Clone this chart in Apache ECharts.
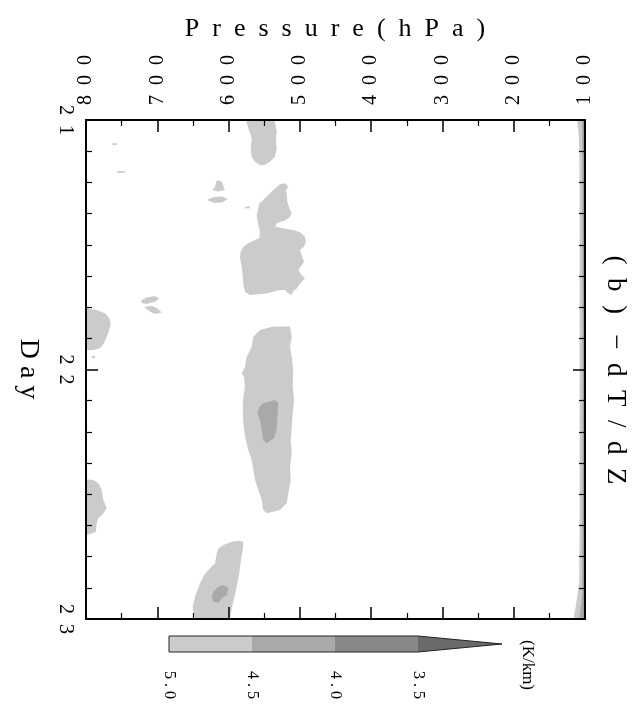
<!DOCTYPE html>
<html>
<head>
<meta charset="utf-8">
<script src="https://cdn.jsdelivr.net/npm/echarts@6/dist/echarts.min.js"></script>
<style>
  html, body { margin: 0; padding: 0; background: #fff; }
  #chart { width: 634px; height: 715px; }
</style>
</head>
<body>
<div id="chart"></div>
<script>
// Axis ranges and ticks
const pressureTicks = [800, 700, 600, 500, 400, 300, 200, 100];
const dayTicks = [21, 22, 23];

// Shading levels of -dT/dZ (K/km): bounds and fill colours
const levelBounds = [5.0, 4.5, 4.0, 3.5];
const levelColors = ['#cbcbcb', '#a9a9a9', '#888888', '#6a6a6a'];

// Contour outlines, each vertex = [pressure (hPa), day]
// --- areas below 5.0 K/km ---
const patchEarly = [[575.6,21.000],[572.3,21.033],[569.0,21.060],[567.6,21.080],[569.0,21.113],[567.6,21.147],[562.9,21.167],[555.9,21.180],[548.9,21.180],[541.9,21.167],[534.9,21.147],[532.5,21.113],[533.5,21.080],[532.5,21.047],[534.9,21.013],[536.3,21.000]];
const speckLow1 = [[763.5,21.093],[756.5,21.093],[757.0,21.100],[763.0,21.100]];
const speckLow2 = [[756.5,21.204],[745.3,21.204],[746.0,21.211],[756.0,21.211]];
const patchMid1 = [[614.8,21.240],[609.2,21.248],[606.4,21.273],[605.0,21.281],[614.8,21.287],[623.2,21.281],[619.0,21.269],[617.6,21.248]];
const patchMid2 = [[628.9,21.319],[620.4,21.309],[609.2,21.307],[600.8,21.317],[609.2,21.331],[620.4,21.333],[628.9,21.323]];
const speckMid = [[577.0,21.347],[570.0,21.347],[570.0,21.354],[577.0,21.354]];
const patchDay21 = [[527.9,21.258],[520.8,21.254],[516.2,21.267],[519.4,21.281],[518.5,21.301],[517.6,21.327],[514.8,21.354],[511.4,21.374],[513.8,21.388],[519.4,21.401],[532.5,21.414],[534.9,21.428],[523.2,21.434],[509.2,21.441],[499.8,21.450],[492.8,21.468],[491.4,21.488],[494.2,21.508],[499.8,21.521],[497.4,21.541],[494.2,21.568],[497.4,21.581],[502.2,21.601],[497.4,21.621],[492.8,21.634],[499.8,21.655],[504.4,21.675],[509.2,21.685],[511.4,21.701],[516.2,21.695],[520.8,21.681],[527.9,21.681],[546.5,21.695],[569.9,21.701],[577.0,21.688],[579.3,21.661],[580.2,21.621],[581.6,21.588],[584.0,21.554],[583.0,21.528],[579.3,21.508],[572.3,21.494],[562.9,21.481],[556.9,21.474],[555.9,21.448],[558.3,21.421],[560.5,21.381],[558.3,21.354],[556.9,21.334],[551.3,21.321],[546.5,21.307],[541.9,21.294],[537.3,21.281],[531.6,21.267]];
const patchLow3a = [[721.9,21.721],[714.8,21.711],[703.2,21.705],[697.2,21.715],[703.2,21.728],[714.8,21.737],[722.8,21.732]];
const patchLow3b = [[718.6,21.748],[707.8,21.745],[700.0,21.755],[693.8,21.772],[703.2,21.778],[710.2,21.768],[714.8,21.759]];
const patchSurf1 = [[800.0,21.755],[785.0,21.762],[773.3,21.775],[767.3,21.795],[765.4,21.815],[767.3,21.842],[771.0,21.869],[774.7,21.895],[780.4,21.915],[789.8,21.922],[800.0,21.922]];
const speckSurf = [[792.0,21.945],[787.0,21.945],[788.0,21.955],[791.0,21.955]];
const patchDay22 = [[555.9,21.842],[537.3,21.828],[513.8,21.828],[511.4,21.869],[513.8,21.909],[511.4,21.949],[509.2,22.002],[510.0,22.069],[508.2,22.122],[510.0,22.176],[511.4,22.229],[512.8,22.283],[511.4,22.336],[513.8,22.390],[512.8,22.443],[516.2,22.496],[518.5,22.536],[527.9,22.563],[546.5,22.576],[551.3,22.563],[553.5,22.523],[558.3,22.483],[562.9,22.443],[565.3,22.403],[567.6,22.363],[572.3,22.323],[577.0,22.269],[579.3,22.216],[580.2,22.162],[579.3,22.109],[577.0,22.069],[578.4,22.029],[581.6,22.015],[577.0,21.989],[574.6,21.949],[567.6,21.909],[565.3,21.869]];
const patchSurf2 = [[800.0,22.440],[789.8,22.443],[782.7,22.456],[778.0,22.483],[775.7,22.523],[771.0,22.556],[775.7,22.576],[782.7,22.596],[785.0,22.616],[786.0,22.650],[792.0,22.657],[800.0,22.663]];
const patchLate = [[586.4,22.686],[579.3,22.690],[580.2,22.723],[582.6,22.764],[585.4,22.824],[589.6,22.884],[593.8,22.936],[598.7,23.000],[647.1,23.000],[650.3,22.951],[647.1,22.911],[640.1,22.857],[635.5,22.830],[628.4,22.804],[619.0,22.777],[616.7,22.737],[614.4,22.717],[607.4,22.703],[595.6,22.690]];
const edgeTop1 = [[100,21.0],[111,21.0],[109,21.05],[108,21.12],[107.5,21.3],[107.5,22.0],[107.5,22.6],[108,22.85],[113,22.95],[116,23.0],[100,23.0]];
// --- areas below 4.5 K/km ---
const coreDay22 = [[551.3,22.135],[534.9,22.122],[530.2,22.135],[531.6,22.189],[532.5,22.242],[536.3,22.276],[546.5,22.296],[551.3,22.283],[553.5,22.242],[555.9,22.202],[559.7,22.176],[556.9,22.149]];
const coreLate = [[614.4,22.871],[607.4,22.864],[600.4,22.877],[602.6,22.904],[609.6,22.917],[614.4,22.935],[621.4,22.931],[623.7,22.911],[621.4,22.891]];
const edgeTop2 = [[100,21.0],[104,21.0],[103.5,21.5],[103.5,22.5],[104,22.9],[108,23.0],[100,23.0]];
// --- areas below 4.0 K/km ---
const edgeTop3 = [[100,21.0],[102,21.0],[101.8,22.0],[102,23.0],[100,23.0]];

const shadeLevels = [
  [patchEarly, speckLow1, speckLow2, patchMid1, patchMid2, speckMid, patchDay21, patchLow3a, patchLow3b, patchSurf1, speckSurf, patchDay22, patchSurf2, patchLate, edgeTop1],
  [coreDay22, coreLate, edgeTop2],
  [edgeTop3]
];

const FONT = '"Liberation Serif", "DejaVu Serif", serif';
const spaced = (s, sep) => String(s).split('').join(sep);

const chart = echarts.init(document.getElementById('chart'), null, { renderer: 'canvas' });

const gridBox = { left: 86, top: 120, width: 499, height: 499 };

function pressureAxis(pos, showLabels) {
  return {
    type: 'value', position: pos, min: 100, max: 800, interval: 100, inverse: true, z: 5,
    axisLine: { show: true, onZero: false, lineStyle: { color: '#000', width: 2 } },
    axisTick: { show: true, inside: true, length: 12, lineStyle: { color: '#000', width: 1.5 } },
    minorTick: { show: true, splitNumber: 2, length: 6, lineStyle: { color: '#000', width: 1.2 } },
    splitLine: { show: false }, minorSplitLine: { show: false },
    axisLabel: {
      show: showLabels, rotate: -90, margin: 15, fontSize: 20, fontFamily: FONT, color: '#000',
      formatter: v => pressureTicks.includes(v) ? spaced(v, '\u2002') : ''
    }
  };
}
function dayAxis(pos, showLabels) {
  return {
    type: 'value', position: pos, min: 21, max: 23, interval: 1, inverse: true, z: 5,
    axisLine: { show: true, onZero: false, lineStyle: { color: '#000', width: 2 } },
    axisTick: { show: true, inside: true, length: 12, lineStyle: { color: '#000', width: 1.5 } },
    minorTick: { show: true, splitNumber: 8, length: 6, lineStyle: { color: '#000', width: 1.2 } },
    splitLine: { show: false }, minorSplitLine: { show: false },
    axisLabel: {
      show: showLabels, rotate: -90, margin: 11, fontSize: 20, fontFamily: FONT, color: '#000',
      formatter: v => dayTicks.includes(v) ? spaced(v, '\u2002') : ''
    }
  };
}

function shadeSeries(polys, color, z) {
  return {
    type: 'custom', coordinateSystem: 'cartesian2d', xAxisIndex: 0, yAxisIndex: 0,
    silent: true, animation: false, z: z,
    encode: { x: 0, y: 1 },
    data: polys.map((poly, i) => [poly[0][0], poly[0][1], i]),
    renderItem: (params, api) => {
      const poly = polys[api.value(2)];
      const pts = poly.map(pt => api.coord(pt));
      return { type: 'polygon', shape: { points: pts }, style: { fill: color, stroke: null } };
    }
  };
}

// Colour bar built from the level bounds
const cbX0 = 169, cbY = 636, cbSeg = 83, cbH = 16, cbTip = 84;
const graphics = [];
levelBounds.slice(0, 3).forEach((b, i) => {
  graphics.push({ type: 'rect', shape: { x: cbX0 + i * cbSeg, y: cbY, width: cbSeg, height: cbH }, style: { fill: levelColors[i] } });
});
const cbEnd = cbX0 + 3 * cbSeg;
graphics.push({ type: 'polygon', shape: { points: [[cbEnd, cbY], [cbEnd + cbTip, cbY + cbH / 2], [cbEnd, cbY + cbH]] }, style: { fill: levelColors[3] } });
graphics.push({ type: 'polyline', shape: { points: [[cbX0, cbY], [cbEnd, cbY], [cbEnd + cbTip, cbY + cbH / 2], [cbEnd, cbY + cbH], [cbX0, cbY + cbH], [cbX0, cbY]] }, style: { stroke: '#222', lineWidth: 1, fill: null } });
levelBounds.forEach((b, i) => {
  graphics.push({ type: 'text', x: cbX0 + i * cbSeg, y: 685, rotation: -Math.PI / 2,
    style: { text: spaced(b.toFixed(1), ' '), fontSize: 16, fontFamily: FONT, fill: '#000', align: 'center', verticalAlign: 'middle' } });
});
graphics.push({ type: 'text', x: 527, y: 665, rotation: -Math.PI / 2,
  style: { text: '(K/km)', fontSize: 17, fontFamily: FONT, fill: '#000', align: 'center', verticalAlign: 'middle' } });
// Titles
graphics.push({ type: 'text', x: 335, y: 29,
  style: { text: spaced('Pressure(hPa)', '\u2002'), fontSize: 26, fontFamily: FONT, fill: '#000', align: 'center', verticalAlign: 'middle' } });
graphics.push({ type: 'text', x: 28, y: 369, rotation: -Math.PI / 2,
  style: { text: spaced('Day', ' '), fontSize: 28, fontFamily: FONT, fill: '#000', align: 'center', verticalAlign: 'middle' } });
graphics.push({ type: 'text', x: 615, y: 370, rotation: -Math.PI / 2,
  style: { text: spaced('(b)', '\u2002') + '\u2002\u2005' + spaced('\u2212dT/dZ', '\u2002'), fontSize: 27, fontFamily: FONT, fill: '#000', align: 'center', verticalAlign: 'middle' } });

chart.setOption({
  backgroundColor: '#fff',
  animation: false,
  grid: gridBox,
  xAxis: [pressureAxis('top', true), pressureAxis('bottom', false)],
  yAxis: [dayAxis('left', true), dayAxis('right', false)],
  series: shadeLevels.map((polys, li) => shadeSeries(polys, levelColors[li], 1 + li)),
  graphic: graphics
});
</script>
</body>
</html>
